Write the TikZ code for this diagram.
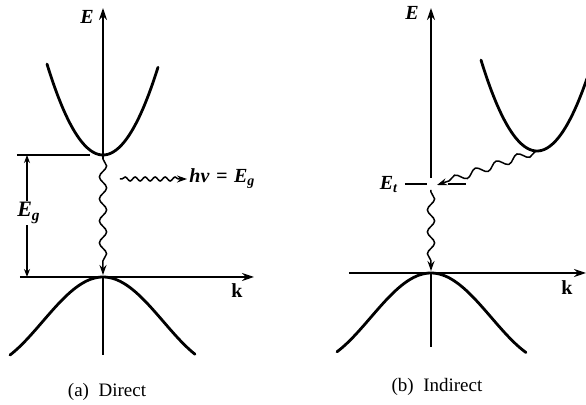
\documentclass[tikz,border=0pt]{standalone}
\usepackage{fontspec}
\setmainfont{Liberation Serif}
\usetikzlibrary{arrows.meta,decorations.pathmorphing}

\begin{document}
\begin{tikzpicture}[
  x=0.5pt, y=-0.5pt,
  font=\fontsize{9.5}{11}\selectfont,
  band/.style={line width=1.4pt, line cap=round},
  axis/.style={line width=0.9pt},
  axisarrow/.style={axis, -{Stealth[length=6pt, width=4pt]}},
  level/.style={line width=0.9pt},
  dim/.style={line width=0.6pt, {Stealth[length=4pt, width=3pt]}-{Stealth[length=4pt, width=3pt]}},
  photon/.style={line width=0.75pt, decorate, -{Stealth[length=5pt, width=3.5pt]},
    decoration={snake, amplitude=1.8pt, segment length=11pt, pre length=1pt, post length=4pt}},
  emission/.style={photon, decoration={snake, amplitude=1pt, segment length=5pt, post length=4pt}},
  elabel/.style={font=\fontsize{10}{11}\bfseries\itshape\selectfont, inner sep=1pt},
  klabel/.style={font=\fontsize{10}{11}\bfseries\selectfont, inner sep=1pt}
]
\useasboundingbox (0,0) rectangle (586,405);

% (a) direct gap
\coordinate (cbA) at (103,155);
\coordinate (vbA) at (103,277);
\coordinate (topA) at (103,8);
\coordinate (botA) at (103,355);
\coordinate (kinA) at (20,277);
\coordinate (koutA) at (254,277);
\coordinate (egtop) at (27,155);
\coordinate (egbot) at (27,277);
\coordinate (egleft) at (17,155);
\coordinate (egright) at (90,155);
\coordinate (emitA) at (120,179);

\draw[band] plot[domain=-56:55, samples=60] ({103+\x},{155-0.029*\x*\x});
\draw[axisarrow] ([yshift=-2pt]cbA) -- (topA);
\draw[axis] (vbA) -- (botA);
\draw[axisarrow] (kinA) -- (koutA);
\draw[level] (egleft) -- (egright);
\draw[dim] (egtop) -- (egbot);
\draw[photon] ([yshift=-1pt]cbA) -- ([yshift=1pt]vbA);

\node[elabel] (EA) at (87,17) {E};
\node[klabel] (kA) at (237,291) {k};
\node[elabel, font=\fontsize{11}{12}\bfseries\itshape\selectfont, fill=white] (EgA) at (29,213) {E\textsubscript{g}};
\node[font=\fontsize{10}{11}\bfseries\itshape\selectfont, anchor=west, inner sep=1pt] (hvA) at (187,179) {hν\,\,=\,\,E\textsubscript{g}};
\draw[emission] (emitA) -- (hvA.west);
\node (capA) at (107,392) {(a)\enspace Direct};

% (b) indirect gap
\coordinate (cbB) at (537,151);
\coordinate (trapB) at (431,184);
\coordinate (vbB) at (431,273);
\coordinate (topB) at (431,8);
\coordinate (botB) at (431,347);
\coordinate (kinB) at (349,273);
\coordinate (koutB) at (586,273);
\coordinate (etl) at (405,184);
\coordinate (etm) at (427,184);
\coordinate (etn) at (448,184);
\coordinate (etr) at (466,184);

\draw[band] plot[domain=-56:50, samples=60] ({537+\x},{151-0.029*\x*\x});
\draw[axisarrow] ([yshift=3pt]trapB) -- (topB);
\draw[axis] (vbB) -- (botB);
\draw[axisarrow] (kinB) -- (koutB);
\draw[level] (etl) -- (etm);
\draw[level] (etn) -- (etr);
\draw[photon] (cbB) -- ([xshift=3pt, yshift=-0.5pt]trapB);
\draw[photon] ([yshift=-3pt]trapB) -- ([yshift=1pt]vbB);

\node[elabel] (EB) at (412,13) {E};
\node[elabel] (EtB) at (389,185) {E\textsubscript{t}};
\node[klabel] (kB) at (567,288) {k};
\node (capB) at (437,387) {(b)\enspace Indirect};

% valence bands
\foreach \cx/\cy/\lo/\hi in {103/277/-93/92, 431/273/-94/95}
  \draw[band] plot[domain=\lo:\hi, samples=80] ({\cx+\x},{\cy+44.6*(1-cos(1.49*\x))});
\end{tikzpicture}
\end{document}
